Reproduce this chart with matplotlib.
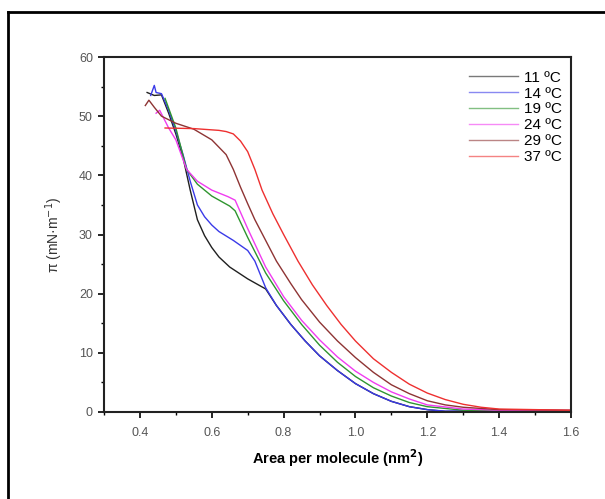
import numpy as np
import matplotlib.pyplot as plt
from matplotlib.lines import Line2D
from matplotlib.ticker import MultipleLocator

plt.rcParams['font.family'] = ['Liberation Sans', 'DejaVu Sans']

# Isotermas pi-A a distintas temperaturas
labels = ['11 ºC', '14 ºC', '19 ºC', '24 ºC', '29 ºC', '37 ºC']
colors = ['#202020', '#3a3ae8', '#2f952f', '#f03cf0', '#8e3434', '#ee3030']

a11 = [0.42, 0.44, 0.46, 0.48, 0.50, 0.52, 0.54, 0.56, 0.58, 0.60, 0.62, 0.65,
       0.70, 0.75, 0.78, 0.82, 0.86, 0.90, 0.95, 1.00, 1.05, 1.10, 1.15, 1.20,
       1.25, 1.40, 1.60]
p11 = [54.0, 53.5, 53.6, 50.5, 47.0, 43.0, 37.5, 32.5, 29.8, 27.8, 26.2, 24.5,
       22.5, 20.8, 18.0, 14.8, 12.0, 9.5, 7.0, 4.8, 3.1, 1.8, 0.9, 0.4,
       0.1, 0.2, 0.2]

a14 = [0.43, 0.44, 0.445, 0.46, 0.48, 0.50, 0.52, 0.54, 0.56, 0.58, 0.60, 0.62,
       0.66, 0.70, 0.72, 0.75, 0.78, 0.82, 0.86, 0.90, 0.95, 1.00, 1.05, 1.10,
       1.15, 1.20, 1.25, 1.40, 1.60]
p14 = [53.5, 55.2, 54.0, 53.8, 51.0, 47.5, 43.5, 39.0, 35.0, 33.0, 31.6, 30.5,
       29.0, 27.3, 25.5, 21.0, 18.0, 14.8, 12.0, 9.5, 7.0, 4.8, 3.1, 1.8,
       0.9, 0.4, 0.15, 0.2, 0.2]

a19 = [0.47, 0.50, 0.53, 0.56, 0.60, 0.65, 0.665, 0.70, 0.75, 0.80, 0.85, 0.90,
       0.95, 1.00, 1.05, 1.10, 1.15, 1.20, 1.30, 1.40, 1.60]
p19 = [53.0, 48.0, 41.0, 38.5, 36.5, 34.8, 34.0, 29.5, 23.5, 18.8, 14.8, 11.3,
       8.4, 6.0, 4.1, 2.7, 1.6, 0.9, 0.3, 0.2, 0.2]

a24 = [0.445, 0.455, 0.48, 0.50, 0.53, 0.56, 0.60, 0.645, 0.665, 0.70, 0.75,
       0.80, 0.85, 0.90, 0.95, 1.00, 1.05, 1.10, 1.15, 1.20, 1.30, 1.40, 1.60]
p24 = [50.5, 51.0, 48.0, 46.0, 41.0, 39.0, 37.5, 36.4, 35.8, 31.0, 24.5,
       19.5, 15.5, 12.2, 9.3, 6.9, 5.0, 3.4, 2.2, 1.2, 0.5, 0.3, 0.25]

a29 = [0.415, 0.425, 0.44, 0.46, 0.50, 0.55, 0.60, 0.64, 0.66, 0.68, 0.70,
       0.72, 0.75, 0.78, 0.82, 0.85, 0.90, 0.95, 1.00, 1.05, 1.10, 1.15, 1.20,
       1.25, 1.30, 1.40, 1.60]
p29 = [51.8, 52.7, 51.5, 50.0, 48.8, 47.8, 46.0, 43.5, 41.0, 38.0, 35.2,
       32.5, 29.0, 25.5, 21.7, 19.0, 15.2, 12.0, 9.2, 6.7, 4.6, 3.1, 1.9,
       1.2, 0.8, 0.4, 0.3]

a37 = [0.47, 0.55, 0.62, 0.64, 0.66, 0.68, 0.70, 0.72, 0.74, 0.77, 0.80, 0.84,
       0.88, 0.92, 0.96, 1.00, 1.05, 1.10, 1.15, 1.20, 1.25, 1.30, 1.35, 1.40,
       1.50, 1.60]
p37 = [48.0, 47.9, 47.6, 47.4, 47.0, 45.8, 44.0, 41.0, 37.5, 33.5, 30.0, 25.5,
       21.5, 18.0, 14.8, 12.0, 9.0, 6.7, 4.7, 3.2, 2.1, 1.3, 0.8, 0.5,
       0.4, 0.3]

areas = [a11, a14, a19, a24, a29, a37]
presiones = [p11, p14, p19, p24, p29, p37]

fig = plt.figure(figsize=(6.05, 4.99), dpi=100)
ax = fig.add_axes([104 / 605, 1 - 412 / 499, 467 / 605, 355 / 499])

for a, p, c, lab in zip(areas, presiones, colors, labels):
    ax.plot(a, p, color=c, linewidth=1.0, label=lab)

ax.set_xlim(0.3, 1.6)
ax.set_ylim(0, 60)
ax.xaxis.set_minor_locator(MultipleLocator(0.1))
ax.yaxis.set_major_locator(MultipleLocator(10))
ax.yaxis.set_minor_locator(MultipleLocator(5))
ax.set_xticks(np.arange(0.4, 1.61, 0.2))
ax.set_xticklabels([f'{v:.1f}' for v in np.arange(0.4, 1.61, 0.2)])
ax.tick_params(which='major', direction='out', length=4.5, width=1.2,
               labelsize=9, labelcolor='#555555', top=False, right=False)
ax.tick_params(axis='x', which='major', pad=6)
ax.tick_params(which='minor', direction='out', length=2.5, width=1.0,
               top=False, right=False)
for s in ax.spines.values():
    s.set_linewidth(1.5)
    s.set_color('#222222')

ax.set_xlabel('Area per molecule (nm$^{\\mathbf{2}}$)', fontsize=10.5,
              fontweight='bold', labelpad=6,
              family=['Liberation Sans Narrow', 'Liberation Sans'])
ax.set_ylabel('π (mN·m$^{-1}$)', fontsize=10, color='#333333', labelpad=10)

handles = [Line2D([], [], color=c, linewidth=1.0, alpha=0.6) for c in colors]
leg = ax.legend(handles, labels, loc='upper right', frameon=False, fontsize=11,
                handlelength=3.2, handletextpad=0.4, labelspacing=0.12,
                bbox_to_anchor=(1.01, 1.0))

# Marco exterior de la figura
fig.add_artist(Line2D([8 / 605, 8 / 605], [0, 1 - 12 / 499], color='black',
                      linewidth=2, transform=fig.transFigure))
fig.add_artist(Line2D([8 / 605, 1], [1 - 12 / 499, 1 - 12 / 499], color='black',
                      linewidth=2, transform=fig.transFigure))

fig.savefig('out.png', dpi=100)
